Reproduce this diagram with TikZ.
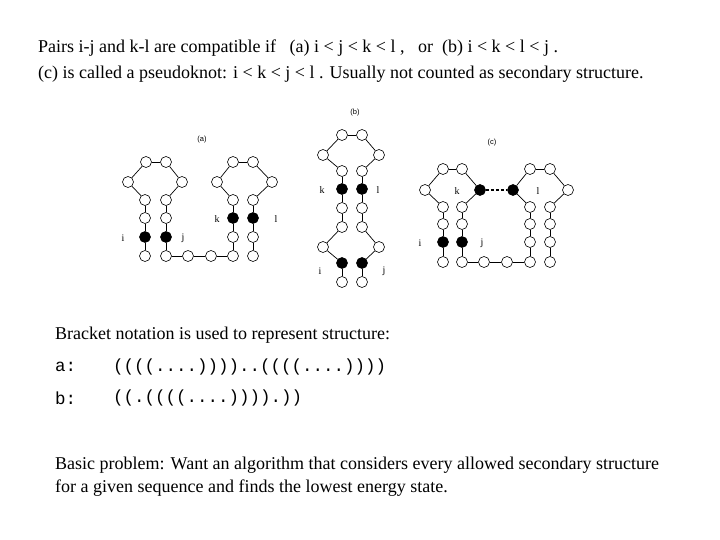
\documentclass[tikz,border=0pt]{standalone}
\usepackage{fontspec}
\setmainfont{Liberation Serif}
\setsansfont{Liberation Sans}
\setmonofont{Liberation Mono}
\begin{document}
\begin{tikzpicture}[x=1pt,y=-1pt,
  bs/.style={circle,draw,line width=0.6pt,minimum size=11pt,inner sep=0pt,fill=white},
  pr/.style={bs,fill=black},
  lbl/.style={font=\rmfamily\fontsize{10}{12}\selectfont,inner sep=0pt},
  captxt/.style={font=\sffamily\fontsize{7.5}{9}\selectfont,inner sep=0pt},
  txt/.style={anchor=west,inner sep=0pt,font=\rmfamily\fontsize{18}{21}\selectfont},
  mono/.style={anchor=west,inner sep=0pt,font=\ttfamily\fontsize{17.5}{20}\selectfont},
  ln/.style={line width=0.7pt}]
\useasboundingbox (0,0) rectangle (720,540);
\node[txt] (t1) at (38,48) {Pairs i-j and k-l are compatible if\ \ \ (a) i < j < k < l ,\ \ \ or\ \ (b) i < k < l < j .};
\node[txt] (t2) at (38,74) {(c) is called a pseudoknot: i < k < j < l . Usually not counted as secondary structure.};
% (a)
\node[captxt] (la) at (202,140) {(a)};
\foreach \n/\x/\y/\s in {1/145/256/bs,2/145/237/pr,3/145/218/bs,4/145/200/bs,5/128/182/bs,6/146/162/bs,7/166/162/bs,8/182/182/bs,9/166/200/bs,10/166/218/bs,11/166/237/pr,12/166/256/bs,13/188/256/bs,14/211/256/bs,15/233/256/bs,16/233/237/bs,17/233/218/pr,18/233/200/bs,19/217/182/bs,20/233/162/bs,21/253/162/bs,22/272/182/bs,23/253/200/bs,24/253/218/pr,25/253/237/bs,26/253/256/bs}
  \node[\s] (a\n) at (\x,\y) {};
\foreach \p/\q in {1/2,2/3,3/4,4/5,5/6,6/7,7/8,8/9,9/10,10/11,11/12,12/13,13/14,14/15,15/16,16/17,17/18,18/19,19/20,20/21,21/22,22/23,23/24,24/25,25/26}
  \draw[ln] (a\p) -- (a\q);
\node[lbl] (ai) at (123,238) {i};
\node[lbl] (aj) at (183,238) {j};
\node[lbl] (ak) at (217,219) {k};
\node[lbl] (al) at (276,219) {l};
% (b)
\node[captxt] (lb) at (355,113) {(b)};
\foreach \n/\x/\y/\s in {1/342/282/bs,2/342/263/pr,3/323/247/bs,4/342/227/bs,5/342/208/bs,6/342/189/pr,7/342/171/bs,8/323/155/bs,9/342/135/bs,10/362/135/bs,11/379/155/bs,12/362/171/bs,13/362/189/pr,14/362/208/bs,15/362/227/bs,16/379/247/bs,17/362/263/pr,18/362/282/bs}
  \node[\s] (b\n) at (\x,\y) {};
\foreach \p/\q in {1/2,2/3,3/4,4/5,5/6,6/7,7/8,8/9,9/10,10/11,11/12,12/13,13/14,14/15,15/16,16/17,17/18}
  \draw[ln] (b\p) -- (b\q);
\node[lbl] (bk) at (322,190) {k};
\node[lbl] (bl) at (378,190) {l};
\node[lbl] (bi) at (320,271) {i};
\node[lbl] (bj) at (384,271) {j};
% (c)
\node[captxt] (lc) at (492,143) {(c)};
\foreach \n/\x/\y/\s in {1/443/262/bs,2/443/242/pr,3/443/224/bs,4/443/207/bs,5/425/190/bs,6/443/169/bs,7/462/169/bs,8/480/190/pr,9/462/207/bs,10/462/224/bs,11/462/242/pr,12/462/262/bs,13/484/262/bs,14/507/262/bs,15/530/262/bs,16/530/242/bs,17/530/224/bs,18/530/207/bs,19/513/190/pr,20/530/169/bs,21/550/169/bs,22/568/190/bs,23/550/207/bs,24/550/224/bs,25/550/242/bs,26/550/262/bs}
  \node[\s] (c\n) at (\x,\y) {};
\foreach \p/\q in {1/2,2/3,3/4,4/5,5/6,6/7,7/8,8/9,9/10,10/11,11/12,12/13,13/14,14/15,15/16,16/17,17/18,18/19,19/20,20/21,21/22,22/23,23/24,24/25,25/26}
  \draw[ln] (c\p) -- (c\q);
\draw[line width=1.6pt,dash pattern=on 3pt off 2pt] (c8) -- (c19);
\node[lbl] (ck) at (457,191) {k};
\node[lbl] (cl) at (538,191) {l};
\node[lbl] (ci) at (420,243) {i};
\node[lbl] (cj) at (482,243) {j};
% lower text
\node[txt] (t3) at (55,335) {Bracket notation is used to represent structure:};
\node[mono] (t4) at (55,367) {a:};
\node[mono] (t5) at (113,367) {((((....))))..((((....))))};
\node[mono] (t6) at (55,398) {b:};
\node[mono] (t7) at (113,398) {((.((((....)))).))};
\node[txt] (t8) at (55,465) {Basic problem: Want an algorithm that considers every allowed secondary structure};
\node[txt] (t9) at (55,488) {for a given sequence and finds the lowest energy state.};
\end{tikzpicture}
\end{document}
